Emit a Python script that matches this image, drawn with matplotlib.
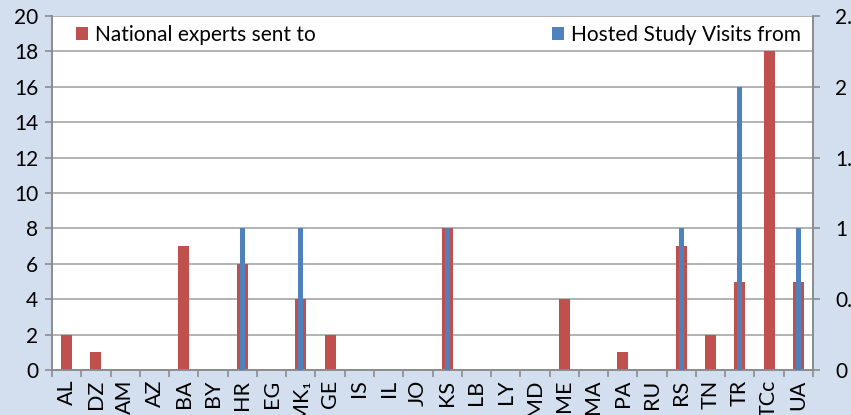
import numpy as np
import matplotlib.pyplot as plt

# categories along the x axis
countries = ['AL', 'DZ', 'AM', 'AZ', 'BA', 'BY', 'HR', 'EG', 'MK\u2081', 'GE', 'IS', 'IL', 'JO',
             'KS', 'LB', 'LY', 'MD', 'ME', 'MA', 'PA', 'RU', 'RS', 'TN', 'TR', 'TCc', 'UA']
# left axis series
experts_sent = [2, 1, 0, 0, 7, 0, 6, 0, 4, 2, 0, 0, 0,
                8, 0, 0, 0, 4, 0, 1, 0, 7, 2, 5, 18, 5]
# right axis series
visits_hosted = [0, 0, 0, 0, 0, 0, 1, 0, 1, 0, 0, 0, 0,
                 1, 0, 0, 0, 0, 0, 0, 0, 1, 0, 2, 0, 1]
left_ticks = [0, 2, 4, 6, 8, 10, 12, 14, 16, 18, 20]
right_ticks = [0, 0.5, 1, 1.5, 2, 2.5]
right_labels = ['0', '0.5', '1', '1.5', '2', '2.5']

red = '#c0504d'
blue = '#4f81bd'
bg = '#d3dfee'
grey = '#8c8c8c'
plt.rcParams['font.family'] = ['Lato', 'DejaVu Sans']

fig = plt.figure(figsize=(8.51, 4.15), dpi=100)
fig.patch.set_facecolor(bg)
ax = fig.add_axes([52/851, 1 - 370/415, (813 - 52)/851, (370 - 16)/415])
ax.set_facecolor('white')

x = np.arange(len(countries))
ax.bar(x, experts_sent, width=0.375, color=red, label='National experts sent to', zorder=2)
ax.set_ylim(0, 20)
ax.set_xlim(-0.5, len(countries) - 0.5)
ax.set_yticks(left_ticks)
ax.yaxis.grid(True, color='#a6a6a6', linewidth=1.2, zorder=0)
ax.set_axisbelow(True)

# x ticks: marks on boundaries, labels at centres
ax.set_xticks(x)
ax.set_xticklabels(countries, rotation=90, fontsize=15.5)
ax.tick_params(axis='x', length=0, pad=7)
ax.set_xticks(np.arange(-0.5, len(countries)), minor=True)
ax.tick_params(axis='x', which='minor', length=5, width=1.2, color=grey)
ax.tick_params(axis='y', length=5, width=1.2, color=grey, labelsize=15, pad=5)

ax.spines['top'].set_visible(False)
for s in ['left', 'right', 'bottom']:
    ax.spines[s].set_color(grey)
    ax.spines[s].set_linewidth(1.2)

# secondary axis for the hosted study visits
ax2 = ax.twinx()
ax2.bar(x, visits_hosted, width=0.17, color=blue, label='Hosted Study Visits from', zorder=3)
ax2.set_ylim(0, 2.5)
ax2.set_yticks(right_ticks)
ax2.set_yticklabels(right_labels)
ax2.tick_params(axis='y', length=5, width=1.2, color=grey, labelsize=15, pad=11)
ax2.spines['top'].set_visible(False)
for s in ['left', 'right', 'bottom']:
    ax2.spines[s].set_color(grey)
    ax2.spines[s].set_linewidth(1.2)

ax.legend(loc='upper left', bbox_to_anchor=(0.015, 1.01), frameon=False, fontsize=15,
          handlelength=0.6, handleheight=0.6, handletextpad=0.3, borderaxespad=0.2)
ax2.legend(loc='upper right', bbox_to_anchor=(1.0, 1.01), frameon=False, fontsize=15,
           handlelength=0.6, handleheight=0.6, handletextpad=0.3, borderaxespad=0.2)

fig.savefig('out.png', dpi=100, facecolor=bg)
